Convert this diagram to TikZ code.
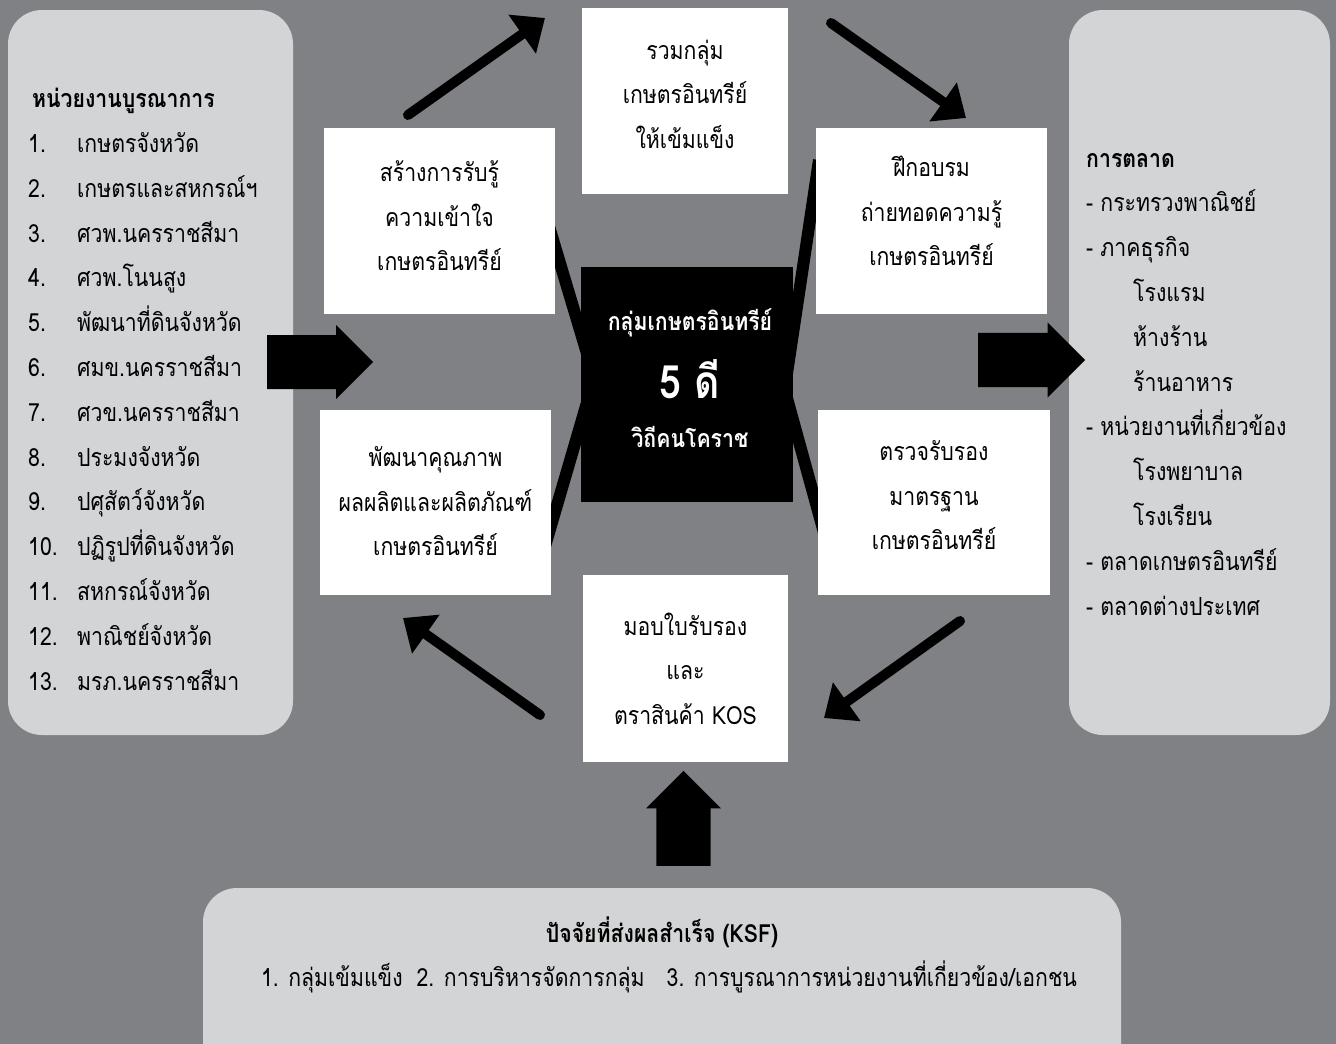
\documentclass[tikz,border=0pt]{standalone}
\usepackage{fontspec}
\setmainfont[Script=Thai,FakeStretch=0.85]{Loma}
\usetikzlibrary{arrows.meta,shapes.arrows}

\definecolor{bggray}{RGB}{128,129,133}
\definecolor{panelgray}{RGB}{211,212,214}

\newcommand{\listfont}{\fontsize{25}{44.8}\selectfont}
\newcommand{\boxfont}{\fontsize{25}{44.5}\selectfont}

\begin{document}
\begin{tikzpicture}[
        x=1pt, y=-1pt,
        panel/.style={fill=panelgray, rounded corners=34pt},
        stepbox/.style={fill=white, minimum width=231pt, minimum height=186pt, inner sep=0pt, align=center, text depth=20pt, font=\boxfont},
        hubbox/.style={fill=black, minimum width=212pt, minimum height=235pt, inner sep=0pt},
        hubtext/.style={text=white, anchor=base, font=\fontsize{25}{25}\selectfont\bfseries},
        listtext/.style={anchor=base west, align=left, inner sep=0pt, font=\listfont},
        spoke/.style={line width=12pt},
        cyclearrow/.style={line width=10pt, line cap=round, -{Triangle[length=28pt,width=46pt]}},
        blockarrow/.style={single arrow, fill=black, inner sep=0pt, text depth=0pt, single arrow tip angle=90, anchor=tail}
    ]
        % Background and frame
        \useasboundingbox (0,0) rectangle (1336,1044);
        \fill[bggray] (0,0) rectangle (1336,1044);

        % Side and bottom panels
        \fill[panel] (8,10) rectangle (293,735);
        \fill[panel] (1069,10) rectangle (1330,735);
        \fill[panel] (203,888) rectangle (1121,1090);

        % Spokes behind the hub
        \coordinate (sUa) at (548,223);
        \coordinate (sUb) at (600,397);
        \coordinate (sLa) at (600,358);
        \coordinate (sLb) at (541,560);
        \coordinate (sRa) at (819,160);
        \coordinate (sRb) at (783,400);
        \coordinate (sSa) at (782,380);
        \coordinate (sSb) at (826,540);
        \draw[spoke] (sUa) -- (sUb);
        \draw[spoke] (sLa) -- (sLb);
        \draw[spoke] (sRa) -- (sRb);
        \draw[spoke] (sSa) -- (sSb);

        % Step boxes round the hub
        \node[stepbox, minimum width=206pt, text depth=14pt] (gather) at (685,101) {รวมกลุ่ม\\เกษตรอินทรีย์\\ให้เข้มแข็ง};
        \node[stepbox, text depth=10pt] (aware) at (439.5,221) {สร้างการรับรู้\\ความเข้าใจ\\เกษตรอินทรีย์};
        \node[stepbox] (train) at (931.5,221) {ฝึกอบรม\\ถ่ายทอดความรู้\\เกษตรอินทรีย์};
        \node[stepbox, minimum height=185pt, text depth=2pt] (improve) at (435.5,502.5) {พัฒนาคุณภาพ\\ผลผลิตและผลิตภัณฑ์\\เกษตรอินทรีย์};
        \node[stepbox, minimum width=232pt, minimum height=185pt, text depth=14pt] (certify) at (934,502.5) {ตรวจรับรอง\\มาตรฐาน\\เกษตรอินทรีย์};
        \node[stepbox, minimum width=205pt, minimum height=187pt, text depth=0pt] (award) at (685.5,668.5) {มอบใบรับรอง\\และ\\ตราสินค้า KOS};

        % Hub
        \node[hubbox] (hub) at (687,384.5) {};
        \node[hubtext] (hubtop) at (690,330) {กลุ่มเกษตรอินทรีย์};
        \node[hubtext, font=\fontsize{46}{46}\selectfont\bfseries] (hubmid) at (690,398) {5 ดี};
        \node[hubtext] (hubbot) at (690,447) {วิถีคนโคราช};

        % Cycle arrows
        \coordinate (c1a) at (408,115);
        \coordinate (c1b) at (545,18);
        \coordinate (c2a) at (831,23);
        \coordinate (c2b) at (966,118);
        \coordinate (c3a) at (960,621);
        \coordinate (c3b) at (824,718);
        \coordinate (c4a) at (540,715);
        \coordinate (c4b) at (403,618);
        \draw[cyclearrow] (c1a) -- (c1b);
        \draw[cyclearrow] (c2a) -- (c2b);
        \draw[cyclearrow] (c3a) -- (c3b);
        \draw[cyclearrow] (c4a) -- (c4b);

        % Block arrows
        \node[blockarrow, text height=38pt, minimum width=74pt, minimum height=106pt] (inarrow) at (267,362) {};
        \node[blockarrow, text height=37pt, minimum width=75pt, minimum height=107pt] (outarrow) at (978,360) {};
        \node[blockarrow, text height=37pt, minimum width=75pt, minimum height=95pt, rotate=90] (ksfarrow) at (683.5,866) {};

        % Left panel
        \node[listtext, font=\listfont\bfseries] (lefttitle) at (32,107) {หน่วยงานบูรณาการ};
        \node[listtext] (leftlist) at (28,690) {%
            \makebox[49pt][l]{1.}เกษตรจังหวัด\\
            \makebox[49pt][l]{2.}เกษตรและสหกรณ์ฯ\\
            \makebox[49pt][l]{3.}ศวพ.นครราชสีมา\\
            \makebox[49pt][l]{4.}ศวพ.โนนสูง\\
            \makebox[49pt][l]{5.}พัฒนาที่ดินจังหวัด\\
            \makebox[49pt][l]{6.}ศมข.นครราชสีมา\\
            \makebox[49pt][l]{7.}ศวข.นครราชสีมา\\
            \makebox[49pt][l]{8.}ประมงจังหวัด\\
            \makebox[49pt][l]{9.}ปศุสัตว์จังหวัด\\
            \makebox[49pt][l]{10.}ปฏิรูปที่ดินจังหวัด\\
            \makebox[49pt][l]{11.}สหกรณ์จังหวัด\\
            \makebox[49pt][l]{12.}พาณิชย์จังหวัด\\
            \makebox[49pt][l]{13.}มรภ.นครราชสีมา};

        % Right panel
        \node[listtext, font=\listfont\bfseries] (righttitle) at (1086,167) {การตลาด};
        \node[listtext] (rightlist) at (1086,615) {%
            - กระทรวงพาณิชย์\\
            - ภาคธุรกิจ\\
            \hspace*{47pt}โรงแรม\\
            \hspace*{47pt}ห้างร้าน\\
            \hspace*{47pt}ร้านอาหาร\\
            - หน่วยงานที่เกี่ยวข้อง\\
            \hspace*{47pt}โรงพยาบาล\\
            \hspace*{47pt}โรงเรียน\\
            - ตลาดเกษตรอินทรีย์\\
            - ตลาดต่างประเทศ};

        % Bottom panel
        \node[anchor=base, inner sep=0pt, font=\listfont\bfseries] (ksftitle) at (662,942) {ปัจจัยที่ส่งผลสำเร็จ (KSF)};
        \node[anchor=base, inner sep=0pt, font=\listfont] (ksflist) at (669,986) {1. กลุ่มเข้มแข็ง\hspace{14pt}2. การบริหารจัดการกลุ่ม\hspace{22pt}3. การบูรณาการหน่วยงานที่เกี่ยวข้อง/เอกชน};
    \end{tikzpicture}
\end{document}
